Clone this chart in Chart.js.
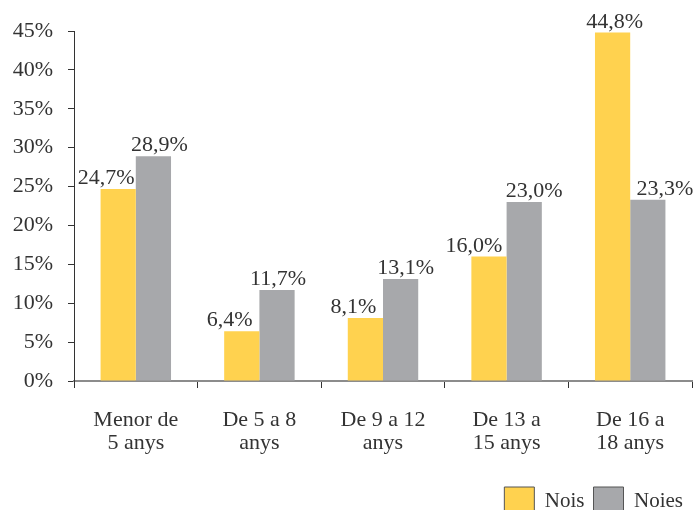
<!DOCTYPE html>
<html>
<head>
<meta charset="utf-8">
<script src="https://cdn.jsdelivr.net/npm/chart.js@4.4.0/dist/chart.umd.min.js"></script>
<style>
  html, body { margin: 0; padding: 0; background: #fff; overflow: hidden; }
  #wrap { position: relative; width: 693px; height: 525px; }
</style>
</head>
<body>
<div id="wrap"><canvas id="ageChart"></canvas></div>
<script>
(function(){
  'use strict';

  // grups d'edat i percentatges per sexe
  const categories = [
    ['Menor de', '5 anys'],
    ['De 5 a 8', 'anys'],
    ['De 9 a 12', 'anys'],
    ['De 13 a', '15 anys'],
    ['De 16 a', '18 anys']
  ];
  const nois = [24.7, 6.4, 8.1, 16.0, 44.8];
  const noies = [28.9, 11.7, 13.1, 23.0, 23.3];
  const yTicks = [0, 5, 10, 15, 20, 25, 30, 35, 40, 45];

  const FONT = "'Liberation Serif', 'Times New Roman', serif";
  const TEXT = '#333333';

  // small horizontal nudges so the value labels don't collide
  const labelShift = [
    [-12, -12, -12, -15, 2],
    [6, 1, 5, 10, 17]
  ];

  const fmtPct = v => v.toFixed(1).replace('.', ',') + '%';

  const valueLabels = {
    id: 'valueLabels',
    afterDatasetsDraw(chart){
      const ctx = chart.ctx;
      ctx.save();
      ctx.font = '22px ' + FONT;
      ctx.fillStyle = TEXT;
      ctx.textAlign = 'center';
      ctx.textBaseline = 'alphabetic';
      chart.data.datasets.forEach((ds, di) => {
        const meta = chart.getDatasetMeta(di);
        meta.data.forEach((bar, i) => {
          ctx.fillText(fmtPct(ds.data[i]), bar.x + labelShift[di][i], bar.y - 5);
        });
      });
      ctx.restore();
    }
  };

  const ctx = document.getElementById('ageChart').getContext('2d');
  new Chart(ctx, {
    type: 'bar',
    data: {
      labels: categories,
      datasets: [
        {
          label: 'Nois',
          data: nois,
          backgroundColor: '#FFD24F',
          borderWidth: 0,
          categoryPercentage: 0.57,
          barPercentage: 1
        },
        {
          label: 'Noies',
          data: noies,
          backgroundColor: '#A7A8AB',
          borderWidth: 0,
          categoryPercentage: 0.57,
          barPercentage: 1
        }
      ]
    },
    options: {
      responsive: true,
      maintainAspectRatio: false,
      animation: false,
      layout: { padding: { top: 31, right: 1, left: 0, bottom: 0 } },
      scales: {
        x: {
          grid: {
            drawOnChartArea: false,
            drawTicks: true,
            tickLength: 7,
            color: '#333',
            offset: true
          },
          border: { display: true, color: '#8c8c8c', width: 2 },
          ticks: {
            color: TEXT,
            font: { family: FONT, size: 22, lineHeight: 1.05 },
            padding: 21,
            maxRotation: 0,
            autoSkip: false
          },
          afterFit(scale){ scale.height = 97; }
        },
        y: {
          min: 0,
          max: 45,
          afterBuildTicks(scale){ scale.ticks = yTicks.map(v => ({ value: v })); },
          grid: {
            drawOnChartArea: false,
            drawTicks: true,
            tickLength: 6,
            color: '#333'
          },
          border: { display: true, color: '#333', width: 1 },
          ticks: {
            color: TEXT,
            font: { family: FONT, size: 22 },
            padding: 15,
            callback: v => v + '%'
          },
          afterFit(scale){ scale.width = 74; }
        }
      },
      plugins: {
        tooltip: { enabled: false },
        legend: {
          position: 'bottom',
          align: 'end',
          labels: {
            color: TEXT,
            font: { family: FONT, size: 21 },
            boxWidth: 30,
            boxHeight: 28,
            padding: 9,
            generateLabels(chart){
              const items = Chart.defaults.plugins.legend.labels.generateLabels(chart);
              items.forEach(it => { it.strokeStyle = '#555'; it.lineWidth = 1; });
              return items;
            }
          }
        }
      }
    },
    plugins: [valueLabels]
  });
})();
</script>
</body>
</html>
